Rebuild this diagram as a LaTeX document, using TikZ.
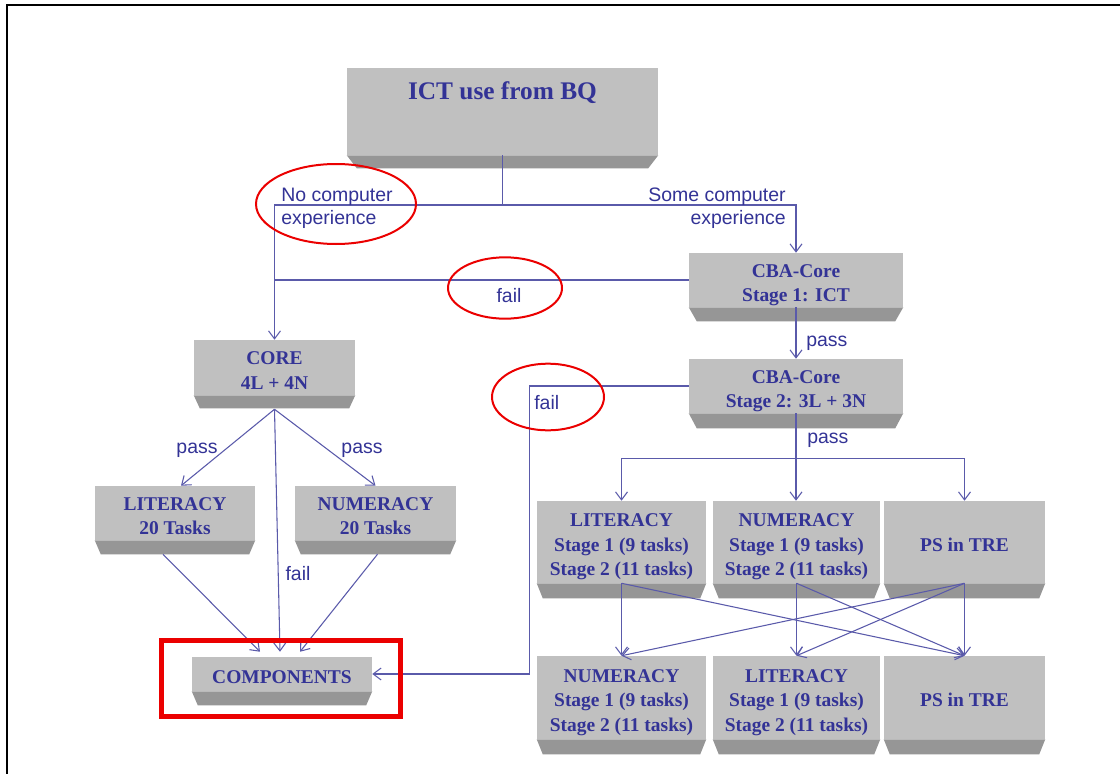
\documentclass[tikz,border=0pt]{standalone}
\usepackage{fontspec}
\setmainfont{Liberation Serif}
\newfontfamily\lsans{Liberation Sans}
\usetikzlibrary{arrows.meta,calc}
\definecolor{txt}{RGB}{51,51,150}
\definecolor{ln}{RGB}{90,90,170}
\definecolor{facec}{RGB}{192,192,192}
\definecolor{bevc}{RGB}{150,150,150}
\definecolor{hlred}{RGB}{235,0,0}
\tikzset{
  boxface/.style={fill=facec, inner sep=0pt, text=txt, align=center,
    font=\bfseries\fontsize{14.6}{18.4}\selectfont},
  bevel/.style={fill=bevc},
  conn/.style={draw=ln, line width=0.8pt},
  conna/.style={conn, -{Straight Barb[length=6pt,width=9pt]}},
  lbl/.style={text=txt, inner sep=0pt, font=\lsans\fontsize{14.6}{17.25}\selectfont},
  hlmark/.style={draw=hlred, line width=1.5pt},
}
\newcommand\mkbox[8]{%
  \node[boxface, minimum width={(#4-#2)*0.75pt}, minimum height={(#5-#3)*0.75pt}]
    (#1) at ({(#2+#4)/2},{(#3+#5)/2})
    {\raisebox{-3.4pt}[\height][\depth]{\begin{tabular}{@{}c@{}}#8\end{tabular}}};
  \fill[bevel] (#1.south west) -- (#1.south east)
    -- ($(#1.south east)+(-#7,{#6-#5})$) -- ($(#1.south west)+(#7,{#6-#5})$) -- cycle;
}
\begin{document}
\begin{tikzpicture}[x=0.75pt,y=-0.75pt]
\useasboundingbox (0,0) rectangle (1120,774);
\fill[white] (0,0) rectangle (1120,774);
\draw[black, line width=1.5pt] (7,774) -- (7,5) -- (1120,5);

% boxes
\mkbox{ict}{347}{68}{658}{155}{168}{10}{}
\node[text=txt, inner sep=0pt, font=\bfseries\fontsize{19}{23}\selectfont] (ictt) at (502.5,93) {ICT use from BQ};
\mkbox{core}{194}{340}{355}{395}{408}{6}{CORE\\4L + 4N}
\mkbox{litt}{95}{486}{255}{540}{554}{6}{LITERACY\\20 Tasks}
\mkbox{numt}{295}{486}{456}{540}{554}{6}{NUMERACY\\20 Tasks}
\mkbox{comp}{192}{657}{372}{691}{705}{6}{COMPONENTS}
\mkbox{cbaa}{689}{253}{903}{307}{321}{8}{CBA-Core\\Stage 1: ICT}
\mkbox{cbab}{689}{359}{903}{413}{428}{8}{CBA-Core\\Stage 2: 3L + 3N}
\mkbox{lita}{537}{501}{706}{583}{598}{6}{LITERACY\\Stage 1 (9 tasks)\\Stage 2 (11 tasks)}
\mkbox{numa}{713}{501}{880}{583}{598}{6}{NUMERACY\\Stage 1 (9 tasks)\\Stage 2 (11 tasks)}
\mkbox{psa}{884}{501}{1045}{583}{598}{6}{PS in TRE}
\mkbox{numb}{537}{656}{706}{739}{754}{6}{NUMERACY\\Stage 1 (9 tasks)\\Stage 2 (11 tasks)}
\mkbox{litb}{713}{656}{880}{739}{754}{6}{LITERACY\\Stage 1 (9 tasks)\\Stage 2 (11 tasks)}
\mkbox{psb}{884}{656}{1045}{739}{754}{6}{PS in TRE}

% connectors
\coordinate (split) at (502.5,205);
\draw[conn] (ict.south) -- (split);
\draw[conna] (split) -| (cbaa.north);
\draw[conna] (split) -| (core.north);
\draw[conn] (cbaa.west) -- (cbaa.west -| core.north);
\draw[conna] (cbaa.south) -- (cbab.north);
\draw[conna] (cbab.west) -- ++(-159,0) |- (comp.east);
\draw[conn] (cbab.south) -- ++(0,45) coordinate (split2);
\draw[conna] (split2) -| (lita.north);
\draw[conna] (split2) -- (split2 |- numa.north);
\draw[conna] (split2) -| (psa.north);
\coordinate (coreb) at ($(core.south)+(0,14)$);
\draw[conna] (coreb) -- ($(litt.north)+(6,0)$);
\draw[conna] (coreb) -- (numt.north);
\draw[conna] (coreb) -- ($(comp.north)+(-2,-5)$);
\draw[conna] ($(litt.south)+(-12,14)$) -- ($(comp.north)+(-22,-5)$);
\draw[conna] ($(numt.south)+(2,14)$) -- ($(comp.north)+(18,-5)$);
\draw[conna] (lita.south) -- (numb.north);
\draw[conna] (lita.south) -- (psb.north);
\draw[conna] (numa.south) -- (litb.north);
\draw[conna] (numa.south) -- (psb.north);
\draw[conna] (psa.south) -- (psb.north);
\draw[conna] (psa.south) -- (numb.north);
\draw[conna] (psa.south) -- (litb.north);

% labels
\node[lbl, align=left, anchor=west] (nocomp) at (281,208) {No computer\\experience};
\node[lbl, align=right, anchor=east] (somecomp) at (786,208) {Some computer\\experience};
\node[lbl] (faila) at (509,296) {fail};
\node[lbl, anchor=west] (passa) at (806,343) {pass};
\node[lbl, anchor=west] (failb) at (534,403) {fail};
\node[lbl, anchor=west] (passb) at (807,440) {pass};
\node[lbl] (passc) at (197,450) {pass};
\node[lbl] (passd) at (362,450) {pass};
\node[lbl] (failc) at (298,574) {fail};

% red highlights
\draw[hlmark] (336,204) ellipse [x radius=60pt, y radius=30pt];
\draw[hlmark] (505,288) ellipse [x radius=42.75pt, y radius=23pt];
\draw[hlmark] (548,397) ellipse [x radius=42pt, y radius=25pt];
\draw[draw=hlred, line width=3.75pt] (161.5,640.5) rectangle (400.5,716.5);
\end{tikzpicture}
\end{document}
